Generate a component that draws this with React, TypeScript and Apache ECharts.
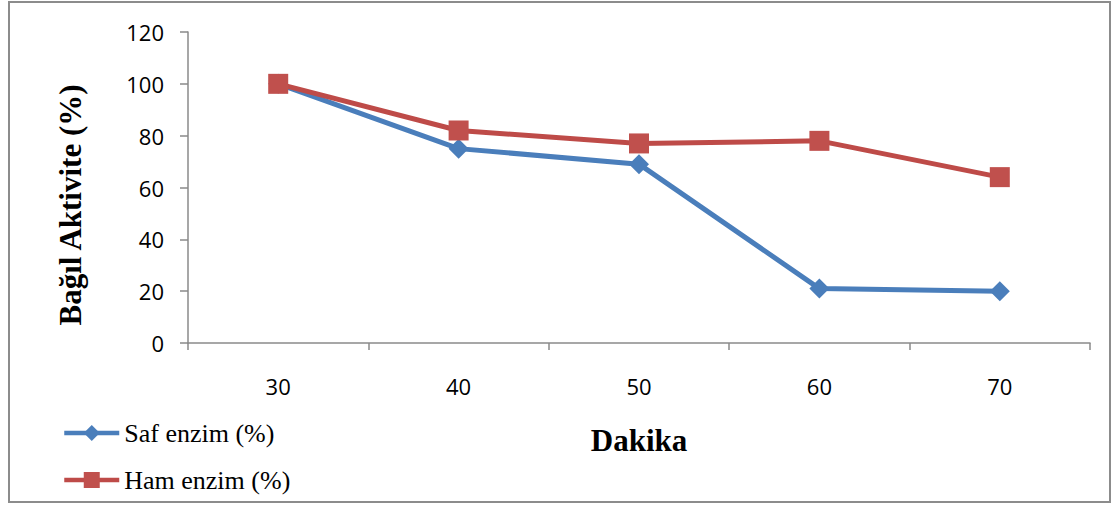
import React, { useEffect, useRef } from "react";
import * as echarts from "echarts";

// Minutes on the x axis
const minutes = ["30", "40", "50", "60", "70"];
// Relative activity (%) per enzyme preparation
const safEnzim = [100, 75, 69, 21, 20];
const hamEnzim = [100, 82, 77, 78, 64];
const seriesNames = ["Saf enzim (%)", "Ham enzim (%)"];

const SERIF = "Liberation Serif";
const SANS = "Open Sans";
const AXIS_GRAY = "#8a8a8a";

export default function App() {
  const ref = useRef<HTMLDivElement>(null);

  useEffect(() => {
    document.body.style.margin = "0";
    const chart = echarts.init(ref.current!, null, { renderer: "svg" });
    chart.setOption({
      animation: false,
      backgroundColor: "#ffffff",
      textStyle: { fontFamily: SERIF },
      graphic: [
        {
          type: "rect",
          shape: { x: 9, y: 2, width: 1101, height: 500 },
          style: { fill: "none", stroke: "#8c8c8c", lineWidth: 2 },
          silent: true,
        },
        {
          type: "text",
          x: 70,
          y: 205,
          rotation: Math.PI / 2,
          style: {
            text: "Bağıl Aktivite (%)",
            fontFamily: SERIF,
            fontSize: 31,
            fontWeight: "bold",
            fill: "#000",
            align: "center",
            verticalAlign: "middle",
          },
          silent: true,
        },
      ],
      grid: { left: 188, right: 25, top: 32, bottom: 163 },
      legend: {
        orient: "vertical",
        left: 62,
        top: 420,
        padding: 0,
        itemWidth: 55,
        itemHeight: 20,
        itemGap: 21,
        lineStyle: { width: 4.5 },
        textStyle: { fontFamily: SERIF, fontSize: 26, color: "#000", lineHeight: 26 },
        data: seriesNames,
      },
      xAxis: {
        type: "category",
        data: minutes,
        boundaryGap: true,
        name: "Dakika",
        nameLocation: "middle",
        nameGap: 82,
        nameTextStyle: { fontFamily: SERIF, fontSize: 31, fontWeight: "bold", color: "#000" },
        axisLine: { lineStyle: { color: AXIS_GRAY, width: 1.5 } },
        axisTick: { show: true, length: 7, lineStyle: { color: AXIS_GRAY, width: 1.5 } },
        axisLabel: { margin: 32, fontFamily: SANS, fontSize: 22, color: "#000" },
      },
      yAxis: {
        type: "value",
        min: 0,
        max: 120,
        interval: 20,
        axisLine: { show: true, lineStyle: { color: AXIS_GRAY, width: 1.5 } },
        axisTick: { show: true, length: 8, lineStyle: { color: AXIS_GRAY, width: 1.5 } },
        splitLine: { show: false },
        axisLabel: { margin: 24, fontFamily: SANS, fontSize: 22, color: "#000" },
      },
      series: [
        {
          name: seriesNames[0],
          type: "line",
          data: safEnzim,
          symbol: "diamond",
          symbolSize: 20,
          lineStyle: { color: "#4a7ebb", width: 5 },
          itemStyle: { color: "#4a7ebb" },
          z: 2,
        },
        {
          name: seriesNames[1],
          type: "line",
          data: hamEnzim,
          symbol: "rect",
          symbolSize: 20,
          lineStyle: { color: "#be4b48", width: 5 },
          itemStyle: { color: "#c0504d" },
          z: 3,
        },
      ],
    });
    return () => chart.dispose();
  }, []);

  return <div ref={ref} style={{ width: 1115, height: 506 }} />;
}
